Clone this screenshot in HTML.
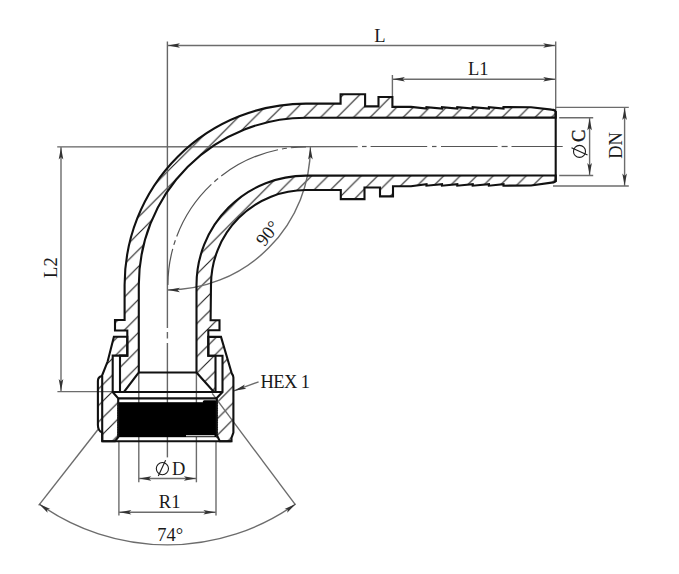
<!DOCTYPE html><html><head><meta charset="utf-8"><style>html,body{margin:0;padding:0;background:#fff;width:679px;height:574px;overflow:hidden}svg{display:block;opacity:0.999}</style></head><body><svg width="679" height="574" viewBox="0 0 679 574">
<defs><pattern id="hp" patternUnits="userSpaceOnUse" x="9" y="0" width="16.5" height="16.5"><path d="M -2 2 L 2 -2 M 0 16.5 L 16.5 0 M 14.5 18.5 L 18.5 14.5" stroke="#222" stroke-width="1.15"/></pattern></defs>
<rect width="679" height="574" fill="#fff"/>
<path d="M 555.70 117.60 L 555.70 112 Q 555.70 109.8 551.5 109.6 L 551.50 109.60 L 531.00 107.20 L 503.50 107.10 L 503.50 108.50 L 488.90 107.10 L 488.90 108.50 L 472.70 107.10 L 472.70 108.50 L 457.30 107.10 L 457.30 108.50 L 442.00 107.10 L 442.00 108.50 L 426.50 107.10 L 426.50 108.50 L 411.00 106.90 L 392.40 106.90 L 392.4 97.0 L 378.5 97.0 L 378.5 106.4 L 365.1 106.4 L 365.1 94.2 L 340.6 94.2 L 340.6 103.6 L 306.00 103.60 A 181.40 181.40 0 0 0 124.60 285.00 L 124.6 320.0 L 115.0 320.0 L 115.0 330.5 L 127.3 330.5 L 127.3 355.6 L 120.0 355.6 L 120.0 392.0 L 124.0 392.0 L 138.8 372.5 L 138.8 285.00 A 167.30 167.30 0 0 1 306.00 117.70 L 555.70 117.6 Z" fill="url(#hp)"/>
<path d="M 555.70 175.50 L 555.70 180.5 Q 555.70 182.6 551.5 182.6 L 551.50 182.60 L 531.00 185.50 L 503.50 185.70 L 503.50 184.20 L 488.90 185.70 L 488.90 184.20 L 472.70 185.70 L 472.70 184.20 L 457.30 185.70 L 457.30 184.20 L 442.00 185.70 L 442.00 184.20 L 426.50 185.70 L 426.50 184.20 L 411.00 186.20 L 393.00 186.20 L 393.0 196.4 L 380.0 196.4 L 380.0 187.5 L 364.5 187.5 L 364.5 199.1 L 340.8 199.1 L 340.8 190.0 L 306.00 190.00 A 95.00 95.00 0 0 0 211.00 285.00 L 210.6 320.2 L 219.5 320.2 L 219.5 330.2 L 208.3 330.2 L 208.3 355.7 L 215.5 355.7 L 215.5 391.9 L 213.9 391.9 L 196.5 372.5 L 196.5 285.00 A 109.40 109.40 0 0 1 306.00 175.60 L 555.70 175.5 Z" fill="url(#hp)"/>
<path d="M 113.9 336.7 L 127.3 336.7 L 127.3 355.6 L 112.7 355.6 L 112.7 392.0 L 118.2 398.4 L 118.2 437.2 L 115.0 441.3 L 102.2 441.3 L 102.2 432.5 Q 97.9 431 97.9 425 L 97.9 381 Q 97.9 377 101.9 376.0 L 107.7 361.3 Z" fill="url(#hp)"/>
<path d="M 221.0 336.9 L 208.3 336.9 L 208.3 355.7 L 222.5 355.7 L 222.5 392.0 L 216.8 397.9 L 216.8 435.0 L 219.8 441.3 L 231.5 441.3 L 231.5 438.0 L 233.4 432.6 L 233.4 377.5 Q 233.4 375.5 231.8 373.5 Z" fill="url(#hp)"/>
<line x1="57.20" y1="146.90" x2="357.70" y2="146.60" stroke="#666" stroke-width="1.40" />
<line x1="362.00" y1="146.50" x2="366.60" y2="146.50" stroke="#555" stroke-width="1.20" />
<line x1="370.60" y1="146.50" x2="427.20" y2="146.50" stroke="#555" stroke-width="1.20" />
<line x1="432.00" y1="146.50" x2="436.50" y2="146.50" stroke="#555" stroke-width="1.20" />
<line x1="441.00" y1="146.50" x2="497.60" y2="146.50" stroke="#555" stroke-width="1.20" />
<line x1="501.60" y1="146.50" x2="507.60" y2="146.50" stroke="#555" stroke-width="1.20" />
<line x1="511.50" y1="146.50" x2="562.70" y2="146.50" stroke="#555" stroke-width="1.20" />
<line x1="167.40" y1="41.50" x2="167.40" y2="328.00" stroke="#666" stroke-width="1.40" />
<line x1="167.40" y1="332.00" x2="167.40" y2="338.50" stroke="#666" stroke-width="1.40" />
<line x1="167.40" y1="343.00" x2="167.40" y2="457.40" stroke="#666" stroke-width="1.40" />
<path d="M 306.00 146.90 A 138.10 138.10 0 0 0 167.90 285.00" fill="none" stroke="#555" stroke-width="1.2" stroke-dasharray="63 4 5 4" stroke-dashoffset="47.8"/>
<line x1="167.40" y1="45.50" x2="555.70" y2="45.50" stroke="#6c6c6c" stroke-width="1.40" />
<polygon points="167.90,45.50 179.90,47.80 177.50,45.50 179.90,43.20" fill="#333"/>
<polygon points="555.20,45.50 543.20,43.20 545.60,45.50 543.20,47.80" fill="#333"/>
<line x1="555.70" y1="41.50" x2="555.70" y2="110.00" stroke="#6c6c6c" stroke-width="1.40" />
<line x1="392.40" y1="79.20" x2="555.70" y2="79.20" stroke="#6c6c6c" stroke-width="1.40" />
<polygon points="392.90,79.20 404.90,81.50 402.50,79.20 404.90,76.90" fill="#333"/>
<polygon points="555.20,79.20 543.20,76.90 545.60,79.20 543.20,81.50" fill="#333"/>
<line x1="392.40" y1="75.00" x2="392.40" y2="96.00" stroke="#6c6c6c" stroke-width="1.40" />
<line x1="61.00" y1="146.90" x2="61.00" y2="391.60" stroke="#6c6c6c" stroke-width="1.40" />
<polygon points="61.00,147.40 58.70,159.40 61.00,157.00 63.30,159.40" fill="#333"/>
<polygon points="61.00,391.10 63.30,379.10 61.00,381.50 58.70,379.10" fill="#333"/>
<line x1="57.40" y1="391.60" x2="112.70" y2="391.60" stroke="#6c6c6c" stroke-width="1.40" />
<line x1="555.70" y1="107.40" x2="628.80" y2="107.40" stroke="#6c6c6c" stroke-width="1.40" />
<line x1="553.00" y1="186.00" x2="628.80" y2="186.00" stroke="#6c6c6c" stroke-width="1.40" />
<line x1="624.60" y1="107.40" x2="624.60" y2="186.00" stroke="#6c6c6c" stroke-width="1.40" />
<polygon points="624.60,107.90 622.30,119.90 624.60,117.50 626.90,119.90" fill="#333"/>
<polygon points="624.60,185.50 626.90,173.50 624.60,175.90 622.30,173.50" fill="#333"/>
<line x1="559.20" y1="117.80" x2="593.20" y2="117.80" stroke="#6c6c6c" stroke-width="1.40" />
<line x1="559.20" y1="175.50" x2="593.20" y2="175.50" stroke="#6c6c6c" stroke-width="1.40" />
<line x1="589.60" y1="117.80" x2="589.60" y2="175.50" stroke="#6c6c6c" stroke-width="1.40" />
<polygon points="589.60,118.30 587.30,130.30 589.60,127.90 591.90,130.30" fill="#333"/>
<polygon points="589.60,175.00 591.90,163.00 589.60,165.40 587.30,163.00" fill="#333"/>
<path d="M 310.40 147.00 A 143.00 143.00 0 0 1 167.40 290.00" fill="none" stroke="#6c6c6c" stroke-width="1.40"/>
<polygon points="310.40,147.50 308.10,159.50 310.40,157.10 312.70,159.50" fill="#333"/>
<polygon points="167.90,290.00 179.90,292.30 177.50,290.00 179.90,287.70" fill="#333"/>
<line x1="138.80" y1="372.50" x2="138.80" y2="482.30" stroke="#6c6c6c" stroke-width="1.40" />
<line x1="196.40" y1="372.50" x2="196.40" y2="482.30" stroke="#6c6c6c" stroke-width="1.40" />
<line x1="138.80" y1="478.50" x2="196.40" y2="478.50" stroke="#6c6c6c" stroke-width="1.40" />
<polygon points="139.30,478.50 151.30,480.80 148.90,478.50 151.30,476.20" fill="#333"/>
<polygon points="195.90,478.50 183.90,476.20 186.30,478.50 183.90,480.80" fill="#333"/>
<line x1="118.90" y1="442.00" x2="118.90" y2="515.50" stroke="#6c6c6c" stroke-width="1.40" />
<line x1="216.00" y1="442.00" x2="216.00" y2="515.50" stroke="#6c6c6c" stroke-width="1.40" />
<line x1="118.90" y1="512.20" x2="215.90" y2="512.20" stroke="#6c6c6c" stroke-width="1.40" />
<polygon points="119.40,512.20 131.40,514.50 129.00,512.20 131.40,509.90" fill="#333"/>
<polygon points="215.40,512.20 203.40,509.90 205.80,512.20 203.40,514.50" fill="#333"/>
<line x1="98.00" y1="429.50" x2="38.70" y2="505.40" stroke="#6c6c6c" stroke-width="1.40" />
<line x1="212.20" y1="393.40" x2="295.10" y2="504.40" stroke="#6c6c6c" stroke-width="1.40" />
<path d="M 39.15 503.97 A 221.40 221.40 0 0 0 295.65 503.97" fill="none" stroke="#6c6c6c" stroke-width="1.40"/>
<polygon points="39.15,503.97 47.60,512.80 46.97,509.53 50.26,509.05" fill="#333"/>
<polygon points="295.65,503.97 284.54,509.05 287.83,509.53 287.20,512.80" fill="#333"/>
<line x1="233.80" y1="390.90" x2="258.60" y2="381.80" stroke="#6c6c6c" stroke-width="1.40" />
<polygon points="234.30,390.70 246.36,388.73 243.31,387.39 244.77,384.41" fill="#333"/>
<rect x="118.6" y="402.2" width="98.0" height="35.0" fill="#000"/>
<rect x="202.8" y="400.2" width="14.0" height="3" rx="1.5" fill="#000"/>
<path d="M 118.8 402.20 L 116.9 403.40 L 118.8 404.60 Z M 216.4 402.20 L 218.3 403.40 L 216.4 404.60 Z M 118.8 404.60 L 116.9 405.80 L 118.8 407.00 Z M 216.4 404.60 L 218.3 405.80 L 216.4 407.00 Z M 118.8 407.00 L 116.9 408.20 L 118.8 409.40 Z M 216.4 407.00 L 218.3 408.20 L 216.4 409.40 Z M 118.8 409.40 L 116.9 410.60 L 118.8 411.80 Z M 216.4 409.40 L 218.3 410.60 L 216.4 411.80 Z M 118.8 411.80 L 116.9 413.00 L 118.8 414.20 Z M 216.4 411.80 L 218.3 413.00 L 216.4 414.20 Z M 118.8 414.20 L 116.9 415.40 L 118.8 416.60 Z M 216.4 414.20 L 218.3 415.40 L 216.4 416.60 Z M 118.8 416.60 L 116.9 417.80 L 118.8 419.00 Z M 216.4 416.60 L 218.3 417.80 L 216.4 419.00 Z M 118.8 419.00 L 116.9 420.20 L 118.8 421.40 Z M 216.4 419.00 L 218.3 420.20 L 216.4 421.40 Z M 118.8 421.40 L 116.9 422.60 L 118.8 423.80 Z M 216.4 421.40 L 218.3 422.60 L 216.4 423.80 Z M 118.8 423.80 L 116.9 425.00 L 118.8 426.20 Z M 216.4 423.80 L 218.3 425.00 L 216.4 426.20 Z M 118.8 426.20 L 116.9 427.40 L 118.8 428.60 Z M 216.4 426.20 L 218.3 427.40 L 216.4 428.60 Z M 118.8 428.60 L 116.9 429.80 L 118.8 431.00 Z M 216.4 428.60 L 218.3 429.80 L 216.4 431.00 Z M 118.8 431.00 L 116.9 432.20 L 118.8 433.40 Z M 216.4 431.00 L 218.3 432.20 L 216.4 433.40 Z M 118.8 433.40 L 116.9 434.60 L 118.8 435.80 Z M 216.4 433.40 L 218.3 434.60 L 216.4 435.80 Z M 118.8 435.80 L 116.9 437.00 L 118.8 438.20 Z M 216.4 435.80 L 218.3 437.00 L 216.4 438.20 Z" fill="#222"/>
<line x1="186.00" y1="435.70" x2="214.50" y2="435.70" stroke="#ddd" stroke-width="1.20" />
<path d="M 555.70 117.60 L 555.70 112 Q 555.70 109.8 551.5 109.6 L 551.50 109.60 L 531.00 107.20 L 503.50 107.10 L 503.50 108.50 L 488.90 107.10 L 488.90 108.50 L 472.70 107.10 L 472.70 108.50 L 457.30 107.10 L 457.30 108.50 L 442.00 107.10 L 442.00 108.50 L 426.50 107.10 L 426.50 108.50 L 411.00 106.90 L 392.40 106.90 L 392.4 97.0 L 378.5 97.0 L 378.5 106.4 L 365.1 106.4 L 365.1 94.2 L 340.6 94.2 L 340.6 103.6 L 306.00 103.60 A 181.40 181.40 0 0 0 124.60 285.00 L 124.6 320.0 L 115.0 320.0 L 115.0 330.5 L 127.3 330.5 L 127.3 355.6 L 120.0 355.6 L 120.0 392.0 L 124.0 392.0 L 138.8 372.5 L 138.8 285.00 A 167.30 167.30 0 0 1 306.00 117.70 L 555.70 117.6 Z" fill="none" stroke="#111" stroke-width="2.10" stroke-linejoin="miter"/>
<path d="M 555.70 175.50 L 555.70 180.5 Q 555.70 182.6 551.5 182.6 L 551.50 182.60 L 531.00 185.50 L 503.50 185.70 L 503.50 184.20 L 488.90 185.70 L 488.90 184.20 L 472.70 185.70 L 472.70 184.20 L 457.30 185.70 L 457.30 184.20 L 442.00 185.70 L 442.00 184.20 L 426.50 185.70 L 426.50 184.20 L 411.00 186.20 L 393.00 186.20 L 393.0 196.4 L 380.0 196.4 L 380.0 187.5 L 364.5 187.5 L 364.5 199.1 L 340.8 199.1 L 340.8 190.0 L 306.00 190.00 A 95.00 95.00 0 0 0 211.00 285.00 L 210.6 320.2 L 219.5 320.2 L 219.5 330.2 L 208.3 330.2 L 208.3 355.7 L 215.5 355.7 L 215.5 391.9 L 213.9 391.9 L 196.5 372.5 L 196.5 285.00 A 109.40 109.40 0 0 1 306.00 175.60 L 555.70 175.5 Z" fill="none" stroke="#111" stroke-width="2.10" stroke-linejoin="miter"/>
<path d="M 113.9 336.7 L 127.3 336.7 L 127.3 355.6 L 112.7 355.6 L 112.7 392.0 L 118.2 398.4 L 118.2 437.2 L 115.0 441.3 L 102.2 441.3 L 102.2 432.5 Q 97.9 431 97.9 425 L 97.9 381 Q 97.9 377 101.9 376.0 L 107.7 361.3 Z" fill="none" stroke="#111" stroke-width="2.10" stroke-linejoin="miter"/>
<path d="M 221.0 336.9 L 208.3 336.9 L 208.3 355.7 L 222.5 355.7 L 222.5 392.0 L 216.8 397.9 L 216.8 435.0 L 219.8 441.3 L 231.5 441.3 L 231.5 438.0 L 233.4 432.6 L 233.4 377.5 Q 233.4 375.5 231.8 373.5 Z" fill="none" stroke="#111" stroke-width="2.10" stroke-linejoin="miter"/>
<line x1="555.70" y1="111.00" x2="555.70" y2="182.00" stroke="#111" stroke-width="2.10" />
<line x1="138.80" y1="372.50" x2="196.50" y2="372.50" stroke="#111" stroke-width="2.10" />
<line x1="112.70" y1="392.00" x2="222.50" y2="392.00" stroke="#111" stroke-width="2.10" />
<line x1="118.20" y1="398.40" x2="216.80" y2="398.40" stroke="#111" stroke-width="2.10" />
<line x1="102.20" y1="376.00" x2="102.20" y2="441.30" stroke="#111" stroke-width="2.10" />
<line x1="102.20" y1="441.30" x2="231.50" y2="441.30" stroke="#111" stroke-width="2.10" />
<text x="379.80" y="41.70" font-family="Liberation Serif" font-size="18.5" fill="#1a1a1a" letter-spacing="0" text-anchor="middle">L</text>
<text x="478.30" y="75.00" font-family="Liberation Serif" font-size="18.5" fill="#1a1a1a" letter-spacing="0" text-anchor="middle">L1</text>
<text x="57.20" y="267.60" font-family="Liberation Serif" font-size="18.5" fill="#1a1a1a" letter-spacing="0" text-anchor="middle" transform="rotate(-90 57.20 267.60)">L2</text>
<text x="621.80" y="145.40" font-family="Liberation Serif" font-size="18.5" fill="#1a1a1a" letter-spacing="0" text-anchor="middle" transform="rotate(-90 621.80 145.40)">DN</text>
<text x="260.50" y="387.70" font-family="Liberation Serif" font-size="18.5" fill="#1a1a1a" letter-spacing="-0.6" text-anchor="start">HEX 1</text>
<text x="178.60" y="475.00" font-family="Liberation Serif" font-size="18.5" fill="#1a1a1a" letter-spacing="0" text-anchor="middle">D</text>
<text x="169.60" y="508.00" font-family="Liberation Serif" font-size="18.5" fill="#1a1a1a" letter-spacing="0" text-anchor="middle">R1</text>
<text x="170.20" y="541.30" font-family="Liberation Serif" font-size="18.5" fill="#1a1a1a" letter-spacing="0" text-anchor="middle">74°</text>
<text x="272.60" y="237.00" font-family="Liberation Serif" font-size="18.5" fill="#1a1a1a" letter-spacing="0" text-anchor="middle" transform="rotate(-52 272.60 237.00)">90°</text>
<g transform="rotate(-90 579.5 141.4)"><text x="585" y="147.4" font-family="Liberation Serif" font-size="18.5" fill="#1a1a1a" stroke="#1a1a1a" stroke-width="0.35" text-anchor="middle">C</text><circle cx="569.5" cy="141.4" r="6" fill="none" stroke="#1a1a1a" stroke-width="1.1"/><line x1="573.2" y1="133.4" x2="565.8" y2="149.4" stroke="#1a1a1a" stroke-width="1.1"/></g>
<circle cx="162.4" cy="468.6" r="6.1" fill="none" stroke="#1a1a1a" stroke-width="1.1"/>
<line x1="165.6" y1="460.3" x2="158.3" y2="476.1" stroke="#1a1a1a" stroke-width="1.1"/>
</svg></body></html>
